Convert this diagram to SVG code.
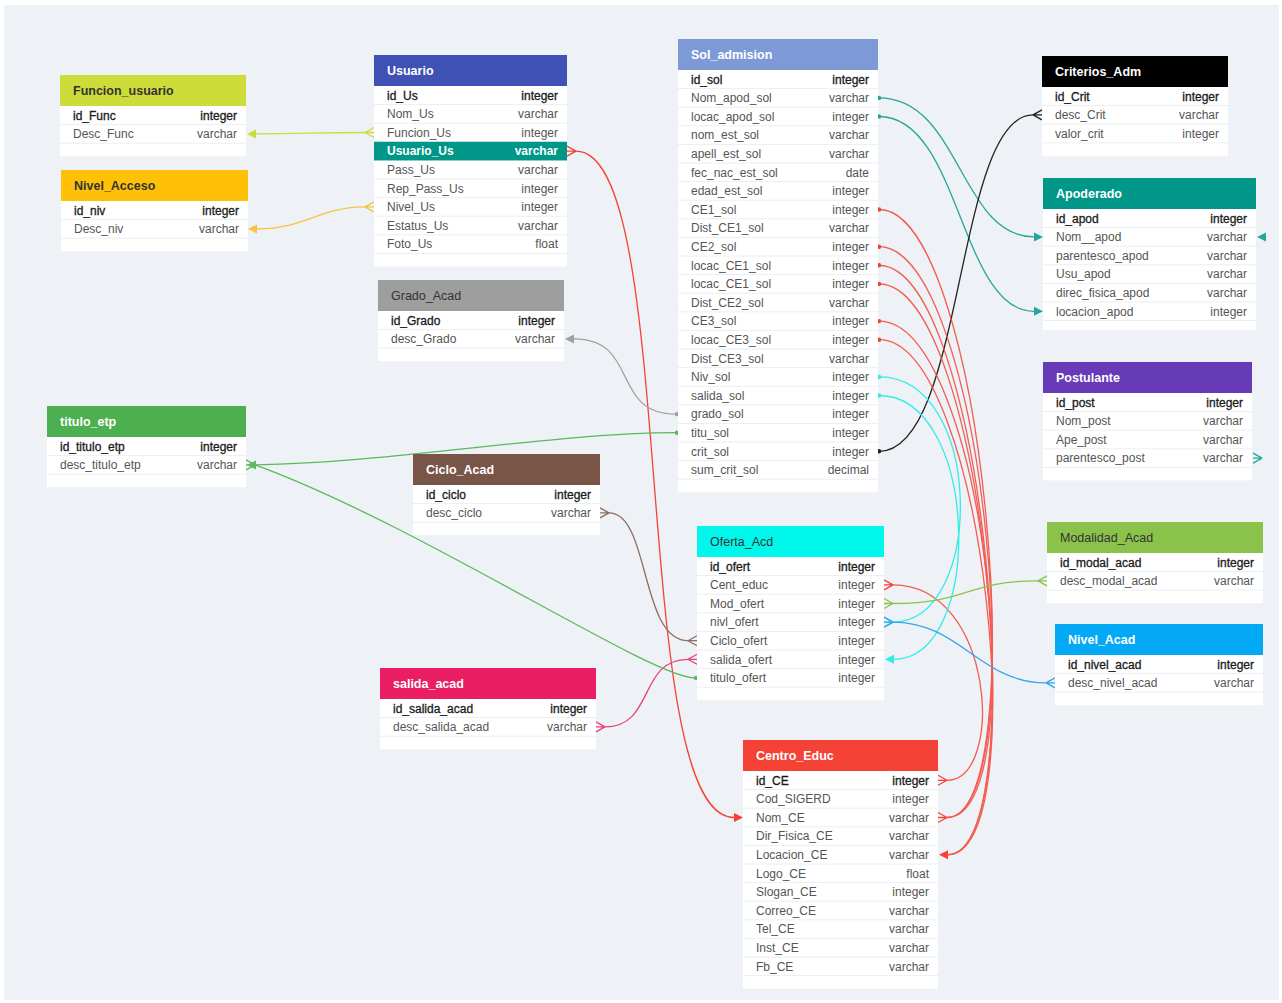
<svg xmlns="http://www.w3.org/2000/svg" xmlns:xlink="http://www.w3.org/1999/xlink" width="1282" height="1003" viewBox="0 0 1282 1003">
<defs>
<style>
.bg{fill:#eef1f5}
.body{fill:#fff}
.sep{stroke:#eceef1;stroke-width:1;fill:none}
.ht{font-family:"Liberation Sans",Arial,sans-serif;font-size:12.5px;font-weight:bold}
.w{fill:#fff}
.d{fill:#333}
.f{font-family:"Liberation Sans",Arial,sans-serif;font-size:12px;fill:#555}
.t{text-anchor:end}
.pk{fill:#1a1a1a;stroke:#1a1a1a;stroke-width:0.3}
.c{fill:none;stroke-width:1.3}
.m{stroke-width:1.3}
</style>
<path id="cfL" d="M-9,0 L0,-5 M-9,0 L0,0 M-9,0 L0,5" fill="none"/>
<path id="cfR" d="M9,0 L0,-5 M9,0 L0,0 M9,0 L0,5" fill="none"/>
<path id="arL" d="M0,0 L-9,-4.5 L-9,4.5 Z" stroke="none"/>
<path id="arR" d="M0,0 L9,-4.5 L9,4.5 Z" stroke="none"/>
<circle id="dot" r="2.2" stroke="none"/>
</defs>
<rect width="1282" height="1003" fill="#fff"/>
<rect class="bg" x="4" y="5" width="1275" height="995"/>

<g id="connectors">
<path class="c" stroke="#cddc39" d="M365,132.5 C310,132.5 310,133.9 256,133.9"/>
<use href="#cfL" x="374" y="132.5" stroke="#cddc39" class="m"/>
<use href="#arR" x="247" y="133.9" fill="#cddc39"/>

<path class="c" stroke="#f6c343" d="M365,206.9 C320,206.9 305,228.9 257,228.9"/>
<use href="#cfL" x="374" y="206.9" stroke="#f6c343" class="m"/>
<use href="#arR" x="248" y="228.9" fill="#f6c343"/>

<path class="c" stroke="#f44336" d="M576,151.1 C680,151.1 628,817.5 734,817.5"/>
<use href="#cfR" x="567" y="151.1" stroke="#f44336" class="m"/>
<use href="#arL" x="743" y="817.5" fill="#f44336"/>

<path class="c" stroke="#26a69a" d="M879,97.9 C960,97.9 960,236.9 1034,236.9"/>
<use href="#dot" x="879" y="97.9" fill="#26a69a"/>
<use href="#arL" x="1043" y="236.9" fill="#26a69a"/>
<path class="c" stroke="#26a69a" d="M879,116.5 C960,116.5 960,311.3 1034,311.3"/>
<use href="#dot" x="879" y="116.5" fill="#26a69a"/>
<use href="#arL" x="1043" y="311.3" fill="#26a69a"/>
<use href="#arR" x="1257" y="236.9" fill="#26a69a"/>
<use href="#cfR" x="1253" y="458.1" stroke="#26a69a" class="m"/>

<path class="c" stroke="#222" d="M879,451.3 C965,451.3 955,114.9 1033,114.9"/>
<use href="#dot" x="879" y="451.3" fill="#222"/>
<use href="#cfL" x="1042" y="114.9" stroke="#222" class="m"/>

<g stroke="#f44336" opacity="0.85">
<path class="c" d="M879,209.5 C985,209.5 1035,817.5 947,817.5"/>
<path class="c" d="M879,246.7 C985,246.7 1035,817.5 947,817.5"/>
<path class="c" d="M879,265.3 C985,265.3 1035,854.7 948,854.7"/>
<path class="c" d="M879,283.9 C985,283.9 1035,854.7 948,854.7"/>
<path class="c" d="M879,321.1 C985,321.1 1035,817.5 947,817.5"/>
<path class="c" d="M879,339.7 C985,339.7 1035,854.7 948,854.7"/>
<path class="c" d="M893,584.9 C995,584.9 1005,780.3 947,780.3"/>
</g>
<g fill="#f44336">
<use href="#dot" x="879" y="209.5"/>
<use href="#dot" x="879" y="246.7"/>
<use href="#dot" x="879" y="265.3"/>
<use href="#dot" x="879" y="283.9"/>
<use href="#dot" x="879" y="321.1"/>
<use href="#dot" x="879" y="339.7"/>
<use href="#arR" x="939" y="854.7"/>
</g>
<use href="#cfR" x="938" y="817.5" stroke="#f44336" class="m"/>
<use href="#cfR" x="938" y="780.3" stroke="#f44336" class="m"/>
<use href="#cfR" x="884" y="584.9" stroke="#f44336" class="m"/>

<path class="c" stroke="#2eeeea" d="M879,376.9 C985,376.9 985,622.1 893,622.1"/>
<path class="c" stroke="#2eeeea" d="M879,395.5 C980,395.5 985,659.3 894,659.3"/>
<use href="#dot" x="879" y="376.9" fill="#2eeeea"/>
<use href="#dot" x="879" y="395.5" fill="#2eeeea"/>
<use href="#arR" x="885" y="659.3" fill="#2eeeea"/>
<use href="#cfR" x="884" y="622.1" stroke="#2eeeea" class="m"/>

<path class="c" stroke="#35a7e8" d="M893,622.1 C960,622.1 980,682.9 1046,682.9"/>
<use href="#cfR" x="884" y="622.1" stroke="#35a7e8" class="m"/>
<use href="#cfL" x="1055" y="682.9" stroke="#35a7e8" class="m"/>

<path class="c" stroke="#8bc34a" d="M893,603.5 C970,603.5 965,580.9 1038,580.9"/>
<use href="#cfR" x="884" y="603.5" stroke="#8bc34a" class="m"/>
<use href="#cfL" x="1047" y="580.9" stroke="#8bc34a" class="m"/>

<path class="c" stroke="#8d6e63" d="M609,512.9 C650,512.9 640,640.7 688,640.7"/>
<use href="#cfR" x="600" y="512.9" stroke="#8d6e63" class="m"/>
<use href="#cfL" x="697" y="640.7" stroke="#8d6e63" class="m"/>

<path class="c" stroke="#ec407a" d="M605,726.9 C655,726.9 638,659.3 688,659.3"/>
<use href="#cfR" x="596" y="726.9" stroke="#ec407a" class="m"/>
<use href="#cfL" x="697" y="659.3" stroke="#ec407a" class="m"/>

<path class="c" stroke="#5cb85c" d="M255,464.9 C400,462 550,433 676,432.7"/>
<path class="c" stroke="#5cb85c" d="M255,464.9 C420,525 650,677.9 695,677.9"/>
<use href="#dot" x="677" y="432.7" fill="#5cb85c"/>
<use href="#dot" x="696" y="677.9" fill="#5cb85c"/>
<use href="#cfR" x="246" y="464.9" stroke="#5cb85c" class="m"/>
<use href="#arR" x="247" y="464.9" fill="#5cb85c"/>

<path class="c" stroke="#a0a0a0" d="M676,414.1 C610,414.1 640,338.9 574,338.9"/>
<use href="#dot" x="677" y="414.1" fill="#a0a0a0"/>
<use href="#arR" x="565" y="338.9" fill="#a0a0a0"/>
</g>

<g id="Funcion_usuario">
<rect x="60" y="75" width="186" height="31" fill="#cddc39"/>
<text class="ht d" x="73" y="95">Funcion_usuario</text>
<rect class="body" x="60" y="106" width="186" height="50.2"/>
<path class="sep" d="M60,124.6h186M60,143.2h186"/>
<text class="f pk" x="73" y="119.5">id_Func</text><text class="f pk t" x="237" y="119.5">integer</text>
<text class="f" x="73" y="138.1">Desc_Func</text><text class="f t" x="237" y="138.1">varchar</text>
</g>

<g id="Nivel_Acceso">
<rect x="61" y="170" width="187" height="31" fill="#ffc107"/>
<text class="ht d" x="74" y="190">Nivel_Acceso</text>
<rect class="body" x="61" y="201" width="187" height="50.2"/>
<path class="sep" d="M61,219.6h187M61,238.2h187"/>
<text class="f pk" x="74" y="214.5">id_niv</text><text class="f pk t" x="239" y="214.5">integer</text>
<text class="f" x="74" y="233.1">Desc_niv</text><text class="f t" x="239" y="233.1">varchar</text>
</g>

<g id="Usuario">
<rect x="374" y="55" width="193" height="31" fill="#3f51b5"/>
<text class="ht w" x="387" y="75">Usuario</text>
<rect class="body" x="374" y="86" width="193" height="180.4"/>
<path class="sep" d="M374,104.6h193M374,123.2h193M374,141.8h193M374,160.4h193M374,179h193M374,197.6h193M374,216.2h193M374,234.8h193M374,253.4h193"/>
<rect x="374" y="141.8" width="193" height="18.6" fill="#009688"/>
<text class="f pk" x="387" y="99.5">id_Us</text><text class="f pk t" x="558" y="99.5">integer</text>
<text class="f" x="387" y="118.1">Nom_Us</text><text class="f t" x="558" y="118.1">varchar</text>
<text class="f" x="387" y="136.7">Funcion_Us</text><text class="f t" x="558" y="136.7">integer</text>
<text class="f" x="387" y="155.3" style="fill:#fff;font-weight:bold">Usuario_Us</text><text class="f t" x="558" y="155.3" style="fill:#fff;font-weight:bold">varchar</text>
<text class="f" x="387" y="173.9">Pass_Us</text><text class="f t" x="558" y="173.9">varchar</text>
<text class="f" x="387" y="192.5">Rep_Pass_Us</text><text class="f t" x="558" y="192.5">integer</text>
<text class="f" x="387" y="211.1">Nivel_Us</text><text class="f t" x="558" y="211.1">integer</text>
<text class="f" x="387" y="229.7">Estatus_Us</text><text class="f t" x="558" y="229.7">varchar</text>
<text class="f" x="387" y="248.3">Foto_Us</text><text class="f t" x="558" y="248.3">float</text>
</g>

<g id="Grado_Acad">
<rect x="378" y="280" width="186" height="31" fill="#9e9e9e"/>
<text class="ht d" x="391" y="300" style="font-weight:normal">Grado_Acad</text>
<rect class="body" x="378" y="311" width="186" height="50.2"/>
<path class="sep" d="M378,329.6h186M378,348.2h186"/>
<text class="f pk" x="391" y="324.5">id_Grado</text><text class="f pk t" x="555" y="324.5">integer</text>
<text class="f" x="391" y="343.1">desc_Grado</text><text class="f t" x="555" y="343.1">varchar</text>
</g>

<g id="Ciclo_Acad">
<rect x="413" y="454" width="187" height="31" fill="#795548"/>
<text class="ht w" x="426" y="474">Ciclo_Acad</text>
<rect class="body" x="413" y="485" width="187" height="50.2"/>
<path class="sep" d="M413,503.6h187M413,522.2h187"/>
<text class="f pk" x="426" y="498.5">id_ciclo</text><text class="f pk t" x="591" y="498.5">integer</text>
<text class="f" x="426" y="517.1">desc_ciclo</text><text class="f t" x="591" y="517.1">varchar</text>
</g>

<g id="titulo_etp">
<rect x="47" y="406" width="199" height="31" fill="#4caf50"/>
<text class="ht w" x="60" y="426">titulo_etp</text>
<rect class="body" x="47" y="437" width="199" height="50.2"/>
<path class="sep" d="M47,455.6h199M47,474.2h199"/>
<text class="f pk" x="60" y="450.5">id_titulo_etp</text><text class="f pk t" x="237" y="450.5">integer</text>
<text class="f" x="60" y="469.1">desc_titulo_etp</text><text class="f t" x="237" y="469.1">varchar</text>
</g>

<g id="salida_acad">
<rect x="380" y="668" width="216" height="31" fill="#e91e63"/>
<text class="ht w" x="393" y="688">salida_acad</text>
<rect class="body" x="380" y="699" width="216" height="50.2"/>
<path class="sep" d="M380,717.6h216M380,736.2h216"/>
<text class="f pk" x="393" y="712.5">id_salida_acad</text><text class="f pk t" x="587" y="712.5">integer</text>
<text class="f" x="393" y="731.1">desc_salida_acad</text><text class="f t" x="587" y="731.1">varchar</text>
</g>

<g id="Oferta_Acd">
<rect x="697" y="526" width="187" height="31" fill="#00f7ec"/>
<text class="ht d" x="710" y="546" style="font-weight:normal">Oferta_Acd</text>
<rect class="body" x="697" y="557" width="187" height="143.2"/>
<path class="sep" d="M697,575.6h187M697,594.2h187M697,612.8h187M697,631.4h187M697,650h187M697,668.6h187M697,687.2h187"/>
<text class="f pk" x="710" y="570.5">id_ofert</text><text class="f pk t" x="875" y="570.5">integer</text>
<text class="f" x="710" y="589.1">Cent_educ</text><text class="f t" x="875" y="589.1">integer</text>
<text class="f" x="710" y="607.7">Mod_ofert</text><text class="f t" x="875" y="607.7">integer</text>
<text class="f" x="710" y="626.3">nivl_ofert</text><text class="f t" x="875" y="626.3">integer</text>
<text class="f" x="710" y="644.9">Ciclo_ofert</text><text class="f t" x="875" y="644.9">integer</text>
<text class="f" x="710" y="663.5">salida_ofert</text><text class="f t" x="875" y="663.5">integer</text>
<text class="f" x="710" y="682.1">titulo_ofert</text><text class="f t" x="875" y="682.1">integer</text>
</g>

<g id="Sol_admision">
<rect x="678" y="39" width="200" height="31" fill="#7d9ad6"/>
<text class="ht w" x="691" y="59">Sol_admision</text>
<rect class="body" x="678" y="70" width="200" height="422.2"/>
<path class="sep" d="M678,88.6h200M678,107.2h200M678,125.8h200M678,144.4h200M678,163h200M678,181.6h200M678,200.2h200M678,218.8h200M678,237.4h200M678,256h200M678,274.6h200M678,293.2h200M678,311.8h200M678,330.4h200M678,349h200M678,367.6h200M678,386.2h200M678,404.8h200M678,423.4h200M678,442h200M678,460.6h200M678,479.2h200"/>
<text class="f pk" x="691" y="83.5">id_sol</text><text class="f pk t" x="869" y="83.5">integer</text>
<text class="f" x="691" y="102.1">Nom_apod_sol</text><text class="f t" x="869" y="102.1">varchar</text>
<text class="f" x="691" y="120.7">locac_apod_sol</text><text class="f t" x="869" y="120.7">integer</text>
<text class="f" x="691" y="139.3">nom_est_sol</text><text class="f t" x="869" y="139.3">varchar</text>
<text class="f" x="691" y="157.9">apell_est_sol</text><text class="f t" x="869" y="157.9">varchar</text>
<text class="f" x="691" y="176.5">fec_nac_est_sol</text><text class="f t" x="869" y="176.5">date</text>
<text class="f" x="691" y="195.1">edad_est_sol</text><text class="f t" x="869" y="195.1">integer</text>
<text class="f" x="691" y="213.7">CE1_sol</text><text class="f t" x="869" y="213.7">integer</text>
<text class="f" x="691" y="232.3">Dist_CE1_sol</text><text class="f t" x="869" y="232.3">varchar</text>
<text class="f" x="691" y="250.9">CE2_sol</text><text class="f t" x="869" y="250.9">integer</text>
<text class="f" x="691" y="269.5">locac_CE1_sol</text><text class="f t" x="869" y="269.5">integer</text>
<text class="f" x="691" y="288.1">locac_CE1_sol</text><text class="f t" x="869" y="288.1">integer</text>
<text class="f" x="691" y="306.7">Dist_CE2_sol</text><text class="f t" x="869" y="306.7">varchar</text>
<text class="f" x="691" y="325.3">CE3_sol</text><text class="f t" x="869" y="325.3">integer</text>
<text class="f" x="691" y="343.9">locac_CE3_sol</text><text class="f t" x="869" y="343.9">integer</text>
<text class="f" x="691" y="362.5">Dist_CE3_sol</text><text class="f t" x="869" y="362.5">varchar</text>
<text class="f" x="691" y="381.1">Niv_sol</text><text class="f t" x="869" y="381.1">integer</text>
<text class="f" x="691" y="399.7">salida_sol</text><text class="f t" x="869" y="399.7">integer</text>
<text class="f" x="691" y="418.3">grado_sol</text><text class="f t" x="869" y="418.3">integer</text>
<text class="f" x="691" y="436.9">titu_sol</text><text class="f t" x="869" y="436.9">integer</text>
<text class="f" x="691" y="455.5">crit_sol</text><text class="f t" x="869" y="455.5">integer</text>
<text class="f" x="691" y="474.1">sum_crit_sol</text><text class="f t" x="869" y="474.1">decimal</text>
</g>

<g id="Centro_Educ">
<rect x="743" y="740" width="195" height="31" fill="#f44336"/>
<text class="ht w" x="756" y="760">Centro_Educ</text>
<rect class="body" x="743" y="771" width="195" height="217.6"/>
<path class="sep" d="M743,789.6h195M743,808.2h195M743,826.8h195M743,845.4h195M743,864h195M743,882.6h195M743,901.2h195M743,919.8h195M743,938.4h195M743,957h195M743,975.6h195"/>
<text class="f pk" x="756" y="784.5">id_CE</text><text class="f pk t" x="929" y="784.5">integer</text>
<text class="f" x="756" y="803.1">Cod_SIGERD</text><text class="f t" x="929" y="803.1">integer</text>
<text class="f" x="756" y="821.7">Nom_CE</text><text class="f t" x="929" y="821.7">varchar</text>
<text class="f" x="756" y="840.3">Dir_Fisica_CE</text><text class="f t" x="929" y="840.3">varchar</text>
<text class="f" x="756" y="858.9">Locacion_CE</text><text class="f t" x="929" y="858.9">varchar</text>
<text class="f" x="756" y="877.5">Logo_CE</text><text class="f t" x="929" y="877.5">float</text>
<text class="f" x="756" y="896.1">Slogan_CE</text><text class="f t" x="929" y="896.1">integer</text>
<text class="f" x="756" y="914.7">Correo_CE</text><text class="f t" x="929" y="914.7">varchar</text>
<text class="f" x="756" y="933.3">Tel_CE</text><text class="f t" x="929" y="933.3">varchar</text>
<text class="f" x="756" y="951.9">Inst_CE</text><text class="f t" x="929" y="951.9">varchar</text>
<text class="f" x="756" y="970.5">Fb_CE</text><text class="f t" x="929" y="970.5">varchar</text>
</g>

<g id="Criterios_Adm">
<rect x="1042" y="56" width="186" height="31" fill="#000"/>
<text class="ht w" x="1055" y="76">Criterios_Adm</text>
<rect class="body" x="1042" y="87" width="186" height="68.8"/>
<path class="sep" d="M1042,105.6h186M1042,124.2h186M1042,142.8h186"/>
<text class="f pk" x="1055" y="100.5">id_Crit</text><text class="f pk t" x="1219" y="100.5">integer</text>
<text class="f" x="1055" y="119.1">desc_Crit</text><text class="f t" x="1219" y="119.1">varchar</text>
<text class="f" x="1055" y="137.7">valor_crit</text><text class="f t" x="1219" y="137.7">integer</text>
</g>

<g id="Apoderado">
<rect x="1043" y="178" width="213" height="31" fill="#009688"/>
<text class="ht w" x="1056" y="198">Apoderado</text>
<rect class="body" x="1043" y="209" width="213" height="121"/>
<path class="sep" d="M1043,227.6h213M1043,246.2h213M1043,264.8h213M1043,283.4h213M1043,302h213M1043,320.6h213"/>
<text class="f pk" x="1056" y="222.5">id_apod</text><text class="f pk t" x="1247" y="222.5">integer</text>
<text class="f" x="1056" y="241.1">Nom__apod</text><text class="f t" x="1247" y="241.1">varchar</text>
<text class="f" x="1056" y="259.7">parentesco_apod</text><text class="f t" x="1247" y="259.7">varchar</text>
<text class="f" x="1056" y="278.3">Usu_apod</text><text class="f t" x="1247" y="278.3">varchar</text>
<text class="f" x="1056" y="296.9">direc_fisica_apod</text><text class="f t" x="1247" y="296.9">varchar</text>
<text class="f" x="1056" y="315.5">locacion_apod</text><text class="f t" x="1247" y="315.5">integer</text>
</g>

<g id="Postulante">
<rect x="1043" y="362" width="209" height="31" fill="#673ab7"/>
<text class="ht w" x="1056" y="382">Postulante</text>
<rect class="body" x="1043" y="393" width="209" height="87.4"/>
<path class="sep" d="M1043,411.6h209M1043,430.2h209M1043,448.8h209M1043,467.4h209"/>
<text class="f pk" x="1056" y="406.5">id_post</text><text class="f pk t" x="1243" y="406.5">integer</text>
<text class="f" x="1056" y="425.1">Nom_post</text><text class="f t" x="1243" y="425.1">varchar</text>
<text class="f" x="1056" y="443.7">Ape_post</text><text class="f t" x="1243" y="443.7">varchar</text>
<text class="f" x="1056" y="462.3">parentesco_post</text><text class="f t" x="1243" y="462.3">varchar</text>
</g>

<g id="Modalidad_Acad">
<rect x="1047" y="522" width="216" height="31" fill="#8bc34a"/>
<text class="ht d" x="1060" y="542" style="font-weight:normal">Modalidad_Acad</text>
<rect class="body" x="1047" y="553" width="216" height="50.2"/>
<path class="sep" d="M1047,571.6h216M1047,590.2h216"/>
<text class="f pk" x="1060" y="566.5">id_modal_acad</text><text class="f pk t" x="1254" y="566.5">integer</text>
<text class="f" x="1060" y="585.1">desc_modal_acad</text><text class="f t" x="1254" y="585.1">varchar</text>
</g>

<g id="Nivel_Acad">
<rect x="1055" y="624" width="208" height="31" fill="#03a9f4"/>
<text class="ht w" x="1068" y="644">Nivel_Acad</text>
<rect class="body" x="1055" y="655" width="208" height="50.2"/>
<path class="sep" d="M1055,673.6h208M1055,692.2h208"/>
<text class="f pk" x="1068" y="668.5">id_nivel_acad</text><text class="f pk t" x="1254" y="668.5">integer</text>
<text class="f" x="1068" y="687.1">desc_nivel_acad</text><text class="f t" x="1254" y="687.1">varchar</text>
</g>
</svg>
